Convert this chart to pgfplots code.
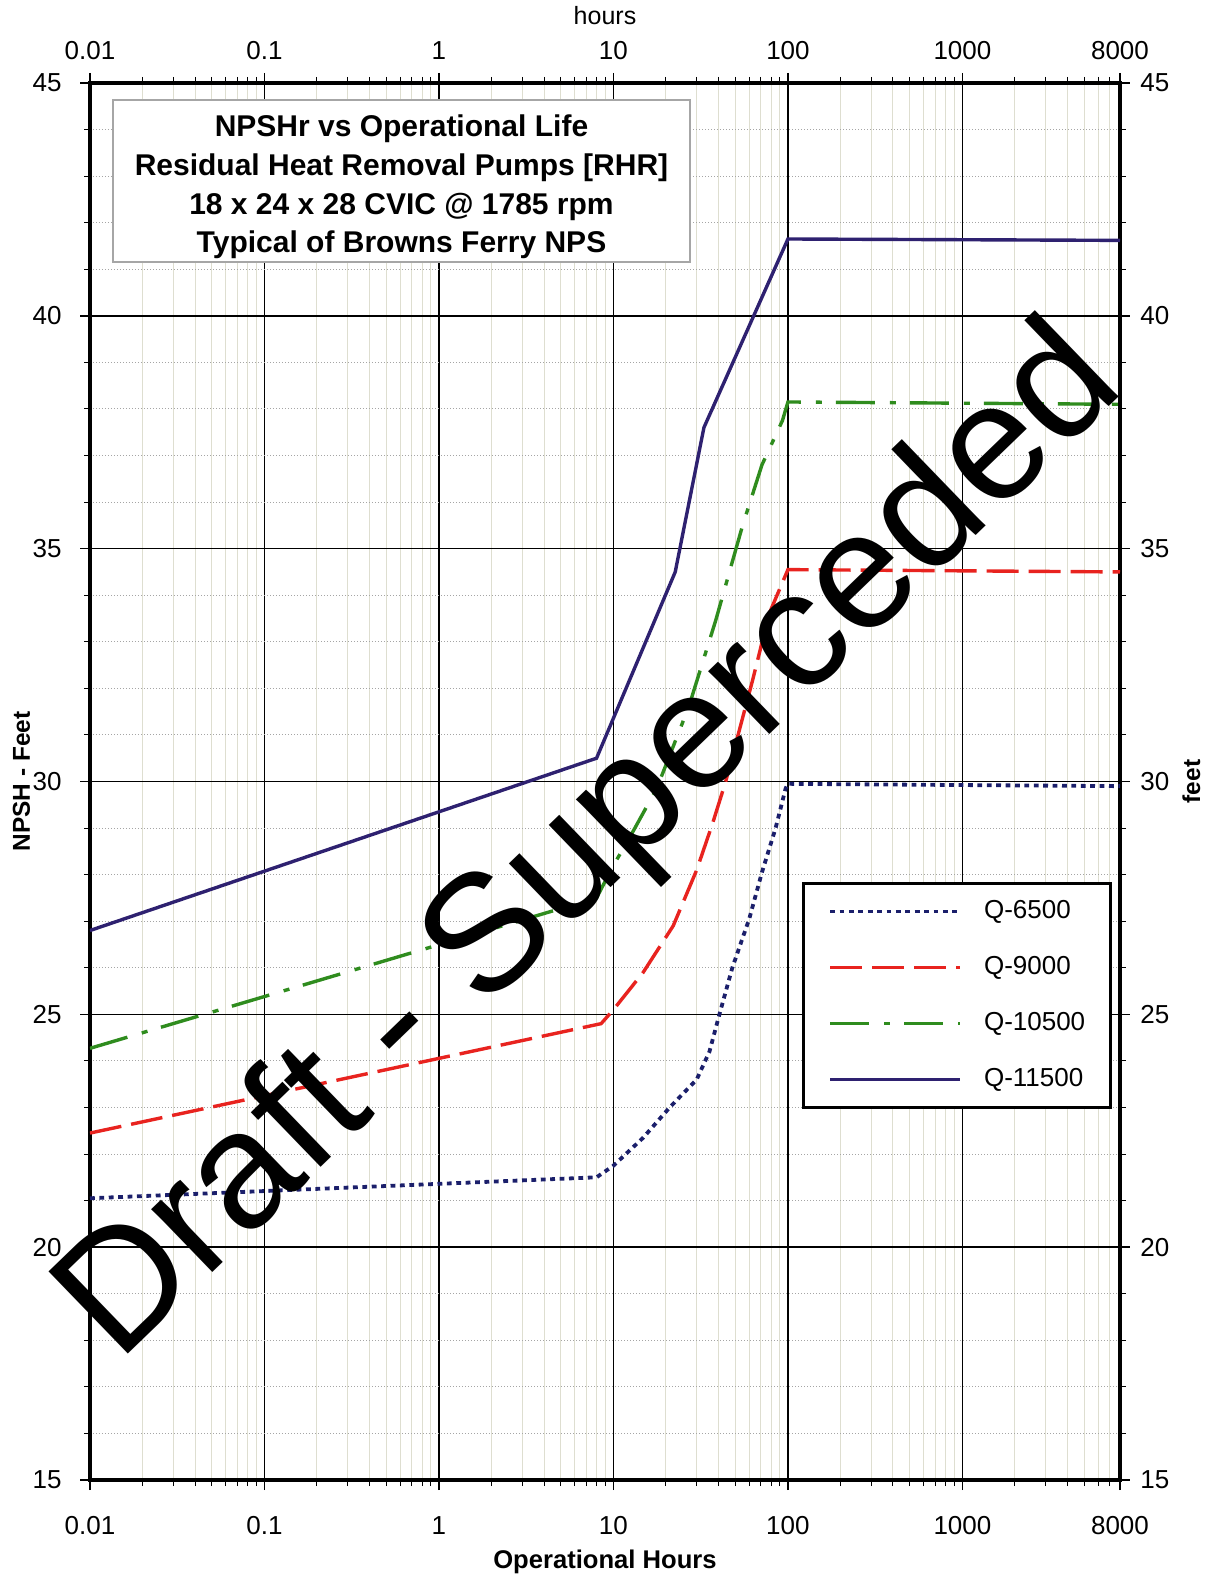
\documentclass[border=0pt]{standalone}
\usepackage{pgfplots}
\pgfplotsset{compat=1.18}
\usepackage{fontspec}
\setmainfont{Liberation Sans}

\definecolor{qnavy}{RGB}{27,31,107}
\definecolor{qpurple}{RGB}{46,33,112}
\definecolor{qred}{RGB}{232,35,31}
\definecolor{qgreen}{RGB}{47,140,30}
\definecolor{mingridx}{RGB}{222,222,208}
\definecolor{mingridy}{RGB}{165,165,165}

\begin{document}
\begin{tikzpicture}
\path[use as bounding box] (-45pt,-47pt) rectangle (560.5pt,740pt);
\begin{axis}[
  at={(0pt,0pt)}, anchor=south west,
  width=515pt, height=698.5pt, scale only axis,
  xmode=log, log basis x=10,
  xmin=0.01, xmax=8000, ymin=15, ymax=45,
  xtick={0.01,0.1,1,10,100,1000,8000},
  xticklabels={0.01,0.1,1,10,100,1000,8000},
  minor xtick={0.02,0.03,0.04,0.05,0.06,0.07,0.08,0.09,0.2,0.3,0.4,0.5,0.6,0.7,0.8,0.9,2,3,4,5,6,7,8,9,20,30,40,50,60,70,80,90,200,300,400,500,600,700,800,900,2000,3000,4000,5000,6000,7000},
  ytick={15,20,25,30,35,40,45},
  yticklabels={15,20,25,30,35,40,45},
  minor ytick={16,17,18,19,21,22,23,24,26,27,28,29,31,32,33,34,36,37,38,39,41,42,43,44},
  grid=both,
  major grid style={black, line width=0.8pt},
  minor x grid style={mingridx, line width=0.5pt},
  minor y grid style={mingridy, line width=0.5pt, densely dotted},
  tick align=outside, tick pos=both,
  major tick length=5pt, minor tick length=3pt,
  tick style={black, line width=0.7pt},
  minor tick style={black, line width=0.5pt},
  axis line style={line width=1.6pt},
  xticklabel style={font=\fontsize{13}{15}\selectfont, anchor=base, inner sep=0pt, yshift=-22pt},
  yticklabel style={font=\fontsize{13}{15}\selectfont, anchor=east, inner sep=0pt, xshift=-9pt},
  xlabel={Operational Hours},
  ylabel={NPSH - Feet},
  xlabel style={font=\bfseries\fontsize{12.8}{15}\selectfont, at={(axis description cs:0.5,-0.0635)}, anchor=base},
  ylabel style={font=\bfseries\fontsize{12.2}{15}\selectfont, at={(axis description cs:-0.0583,0.5)}, anchor=base, rotate=0},
  legend image code/.code={\draw[#1] (0pt,0pt) -- (65pt,0pt);},
  legend cell align=left,
  legend style={at={(axis description cs:0.691,0.428)}, anchor=north west,
    draw=black, line width=1.5pt, fill=white,
    inner xsep=12.5pt, inner ysep=8pt, row sep=16pt,
    font=\fontsize{13}{15}\selectfont,
    nodes={inner sep=0pt, text height=9.3pt, text depth=2.7pt},
    /tikz/every odd column/.append style={column sep=11pt}},
]
\addplot[qnavy, line width=1.9pt, dash pattern=on 2.4pt off 2.3pt] coordinates {
 (0.01,21.05) (8,21.5) (10,21.75) (14.8,22.35) (21,23.0) (30,23.6) (35.5,24.2)
 (40.5,25.0) (48,26.0) (60,27.05) (71,28.05) (85,29.0) (97,29.85) (100,29.95) (8000,29.9)};
\addlegendentry{Q-6500}
\addplot[qred, line width=1.7pt, dash pattern=on 16pt off 5pt] coordinates {
 (0.01,22.45) (8.5,24.8) (10,25.1) (14.8,25.9) (22,26.9) (30,28.1) (37,29.1)
 (44,30.0) (63,32.2) (78,33.6) (100,34.55) (8000,34.5)};
\addlegendentry{Q-9000}
\addplot[qgreen, line width=1.7pt, dash pattern=on 19.5pt off 7.5pt on 3pt off 7pt] coordinates {
 (0.01,24.27) (8,27.5) (10,28.2) (12.4,28.8) (17.7,29.85) (27,31.6) (38.5,33.45)
 (55,35.5) (71,36.8) (93,37.75) (100,38.15) (8000,38.1)};
\addlegendentry{Q-10500}
\addplot[qpurple, line width=1.7pt] coordinates {
 (0.01,26.8) (8,30.5) (22.6,34.5) (33,37.6) (100,41.65) (8000,41.62)};
\addlegendentry{Q-11500}
\end{axis}
\begin{axis}[
  at={(0pt,0pt)}, anchor=south west,
  width=515pt, height=698.5pt, scale only axis,
  xmode=log, log basis x=10,
  xmin=0.01, xmax=8000, ymin=15, ymax=45,
  xtick={0.01,0.1,1,10,100,1000,8000},
  xticklabels={0.01,0.1,1,10,100,1000,8000},
  ytick={15,20,25,30,35,40,45},
  yticklabels={15,20,25,30,35,40,45},
  xticklabel pos=upper, yticklabel pos=upper,
  axis line style={draw=none}, major tick length=0pt, tick style={draw=none},
  xticklabel style={font=\fontsize{13}{15}\selectfont, anchor=base, inner sep=0pt, yshift=11.5pt},
  yticklabel style={font=\fontsize{13}{15}\selectfont, anchor=west, inner sep=0pt, xshift=10pt},
  xlabel={hours}, ylabel={feet},
  xlabel style={font=\fontsize{12.5}{15}\selectfont, at={(axis description cs:0.5,1.0422)}, anchor=base},
  ylabel style={font=\bfseries\fontsize{12.2}{15}\selectfont, at={(axis description cs:1.0777,0.5)}, anchor=base, rotate=0},
]
\end{axis}
\draw[gray!70, line width=0.6pt, fill=white] (11.5pt,609pt) rectangle (300pt,690pt);
\node[align=center, font=\bfseries\fontsize{15}{19.3}\selectfont, inner sep=0pt]
  at (155.75pt,646.5pt) {NPSHr vs Operational Life\\Residual Heat Removal Pumps [RHR]\\18 x 24 x 28 CVIC @ 1785 rpm\\Typical of Browns Ferry NPS};
\node[rotate=44, anchor=base west, font=\fontsize{83}{83}\selectfont, inner sep=0pt]
  at (14pt,58pt) {Draft - Superceded};
\end{tikzpicture}
\end{document}
